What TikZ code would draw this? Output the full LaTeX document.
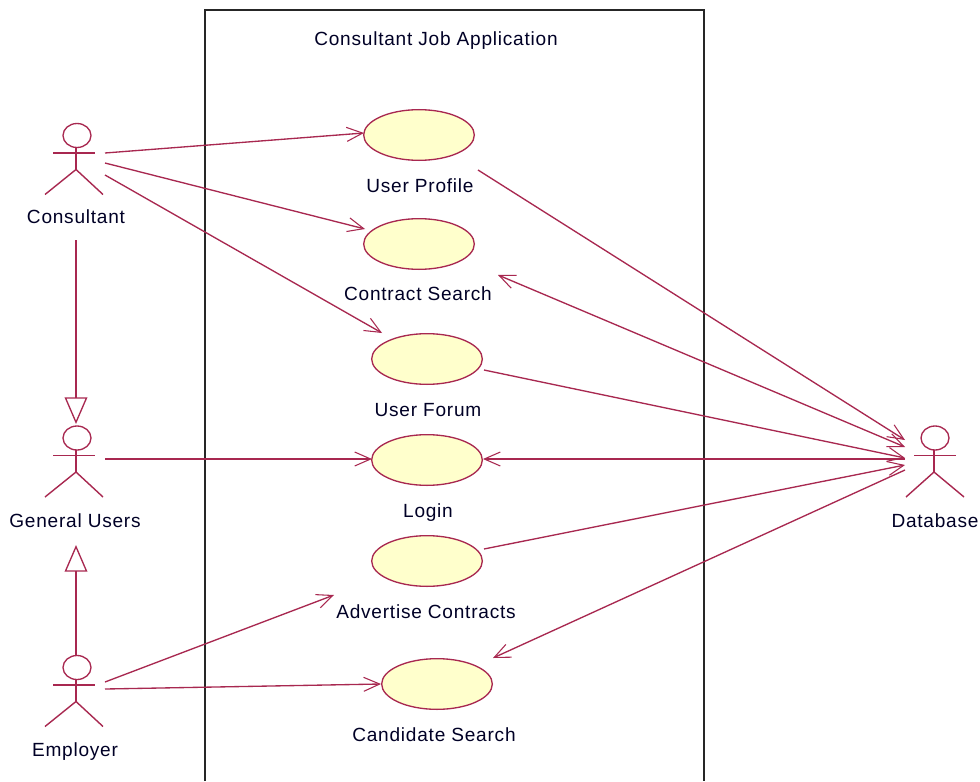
\documentclass[tikz,border=0pt]{standalone}
\usepackage{fontspec}
\setmainfont[LetterSpace=4]{Liberation Sans}
\usetikzlibrary{arrows.meta,shapes.geometric}
\definecolor{umlline}{HTML}{A82850}
\definecolor{umlfill}{HTML}{FFFFCC}
\tikzset{x=.75pt,y=-.75pt,
 uc/.style={ellipse,draw=umlline,fill=umlfill,line width=1pt,minimum width=83pt,minimum height=38pt,inner sep=0pt},
 lbl/.style={font=\fontsize{14.3}{16}\selectfont,text=black!85!blue,inner sep=0pt},
 head/.style={ellipse,draw=umlline,line width=1pt,minimum width=21pt,minimum height=18pt,inner sep=0pt},
 limb/.style={draw=umlline,line width=1.05pt},
 con/.style={draw=umlline,line width=1pt,-{Straight Barb[length=12pt,width=10.5pt,line width=.8pt]}},
 dbl/.style={draw=umlline,line width=1pt,{Straight Barb[length=12pt,width=10.5pt,line width=.8pt]}-{Straight Barb[length=12pt,width=10.5pt,line width=.8pt]}},
 gen/.style={draw=umlline,line width=1pt,-{Triangle[open,length=20pt,width=17pt,line width=1pt]}}}
% #1 body x, #2 head y, #3 name, #4 left arm, #5 right arm, #6 left leg, #7 right leg
\newcommand{\actorfig}[7]{%
 \node[head] (#3head) at (#1+1,#2) {};
 \coordinate (#3neck) at (#1,#2+12);
 \coordinate (#3hip) at (#1,#2+34);
 \coordinate (#3arml) at (#4,#2+17.5);
 \coordinate (#3armr) at (#5,#2+17.5);
 \coordinate (#3legl) at (#6,#2+59);
 \coordinate (#3legr) at (#7,#2+59);
 \draw[limb] (#3neck) -- (#3hip);
 \draw[limb] (#3arml) -- (#3armr);
 \draw[limb] (#3legl) -- (#3hip) -- (#3legr);}
\begin{document}
\begin{tikzpicture}
\useasboundingbox (0,0) rectangle (980,781);
\fill[white] (0,0) rectangle (980,781);
\draw[black!85,line width=.9pt] (205,781) -- (205,10) -- (704,10) -- (704,781);
\node[lbl] (title) at (436,41) {Consultant Job Application};
% actors
\actorfig{76}{135.5}{con}{53}{95}{45}{103}
\node[lbl] (conl) at (76,217) {Consultant};
\actorfig{76}{438}{gu}{53}{95}{45}{103}
\node[lbl] (gul) at (75,521) {General Users};
\actorfig{76}{667.5}{emp}{53}{95}{45}{103}
\node[lbl] (empl) at (75,752) {Employer};
\actorfig{934}{438}{db}{914}{956}{906}{964}
\node[lbl] (dbl) at (935,521) {Database};
% use cases
\node[uc] (uprof) at (419,135) {};
\node[lbl] (uprofl) at (420,186) {User Profile};
\node[uc] (csearch) at (419,244) {};
\node[lbl] (csearchl) at (418,294) {Contract Search};
\node[uc] (forum) at (427,359) {};
\node[lbl] (foruml) at (428,410) {User Forum};
\node[uc] (login) at (427,460) {};
\node[lbl] (loginl) at (428,513) {Login};
\node[uc] (adv) at (427,561) {};
\node[lbl] (advl) at (426,612) {Advertise Contracts};
\node[uc] (cand) at (437,684) {};
\node[lbl] (candl) at (434,735) {Candidate Search};
% connector ends
\coordinate (a1) at (105,153);
\coordinate (a2) at (105,163);
\coordinate (a3) at (105,175);
\coordinate (a4) at (76,240);
\coordinate (a5) at (105,459);
\coordinate (a6) at (76,655);
\coordinate (a7) at (105,682);
\coordinate (a8) at (105,689);
\coordinate (g1) at (76,424);
\coordinate (g2) at (76,545);
\coordinate (t1) at (364,133);
\coordinate (t2) at (365,229);
\coordinate (t3) at (382,333);
\coordinate (t5) at (372,459);
\coordinate (t7) at (334,595);
\coordinate (t8) at (381,684);
\coordinate (s1) at (478,170);
\coordinate (s2) at (498,275);
\coordinate (s3) at (484,370);
\coordinate (s4) at (483,459);
\coordinate (s5) at (484,549);
\coordinate (s6) at (493,658);
\coordinate (d1) at (905,440);
\coordinate (d2) at (905,447);
\coordinate (d3) at (905,458);
\coordinate (d4) at (905,459);
\coordinate (d5) at (905,465);
\coordinate (d6) at (905,470);
\draw[con] (a1) -- (t1);
\draw[con] (a2) -- (t2);
\draw[con] (a3) -- (t3);
\draw[gen] (a4) -- (g1);
\draw[con] (a5) -- (t5);
\draw[gen] (a6) -- (g2);
\draw[con] (a7) -- (t7);
\draw[con] (a8) -- (t8);
\draw[con] (s1) -- (d1);
\draw[dbl] (s2) -- (d2);
\draw[con] (s3) -- (d3);
\draw[con] (d4) -- (s4);
\draw[con] (s5) -- (d5);
\draw[con] (d6) -- (s6);
\end{tikzpicture}
\end{document}
